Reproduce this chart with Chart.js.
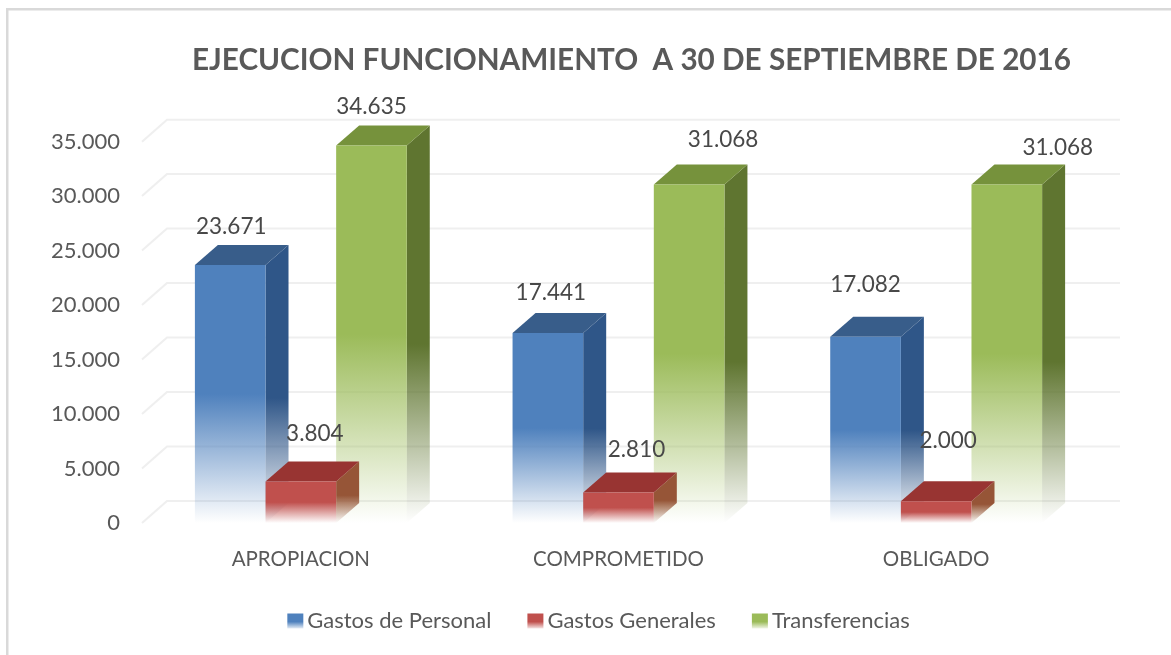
<!DOCTYPE html>
<html><head><meta charset="utf-8">
<style>html,body{margin:0;padding:0;background:#fff}#w{width:1171px;height:655px}</style>
<script src="https://cdn.jsdelivr.net/npm/chart.js@4"></script></head>
<body><div id="w"><canvas id="c" width="1171" height="655"></canvas></div>
<script>
const categories=['APROPIACION','COMPROMETIDO','OBLIGADO'];
const gastosPersonal=[23671,17441,17082];
const gastosGenerales=[3804,2810,2000];
const transferencias=[34635,31068,31068];
const titleText='EJECUCION FUNCIONAMIENTO  A 30 DE SEPTIEMBRE DE 2016';

const fmt=v=>String(v).replace(/\B(?=(\d{3})+$)/g,'.');
const DX=23,DY=-20,FADE=0.5;
const palette=[
 {front:[79,129,189],top:[56,93,138],side:[47,86,136]},
 {front:[192,80,77],top:[152,52,50],side:[150,85,55]},
 {front:[155,187,89],top:[118,146,60],side:[95,117,48]}];
const rgba=(c,a)=>`rgba(${c[0]},${c[1]},${c[2]},${a})`;
function frontFill(i){return ctx=>{
  const ch=ctx.chart,c=palette[i].front;
  if(!ch.chartArea||ctx.raw===undefined)return rgba(c,1);
  const y=ch.scales.y,t=y.getPixelForValue(ctx.raw),b=y.getPixelForValue(0);
  const g=ch.ctx.createLinearGradient(0,t,0,b);
  g.addColorStop(0,rgba(c,1));g.addColorStop(FADE,rgba(c,1));g.addColorStop(1,rgba(c,0));
  return g;};}
function drawFaces(chart,i){
  const c=chart.ctx,meta=chart.getDatasetMeta(i),p=palette[i];
  meta.data.forEach(b=>{
    const l=b.x-b.width/2,r=b.x+b.width/2,t=b.y,bs=b.base;
    const g=c.createLinearGradient(0,t+DY,0,bs);
    g.addColorStop(0,rgba(p.side,1));g.addColorStop(0.55,rgba(p.side,1));g.addColorStop(1,rgba(p.side,0));
    c.fillStyle=g;c.beginPath();c.moveTo(r,t);c.lineTo(r+DX,t+DY);c.lineTo(r+DX,bs+DY);c.lineTo(r,bs);c.closePath();c.fill();
    c.fillStyle=rgba(p.top,1);c.beginPath();c.moveTo(l,t);c.lineTo(l+DX,t+DY);c.lineTo(r+DX,t+DY);c.lineTo(r,t);c.closePath();c.fill();
  });
}
const labelShift=[[[1,-38],[3,-40],[0,-52]],[[14,-48],[18,-43],[12,-60]],[[0,-39],[34,-45],[51,-37]]];
const threeD={id:'threeD',
  beforeDraw(chart){const c=chart.ctx;c.save();c.fillStyle='#fff';c.fillRect(0,0,chart.width,chart.height);
    c.fillStyle='#d9d9d9';c.fillRect(6,8,2.5,chart.height-8);c.fillRect(6,8,chart.width-6,2.5);c.restore();},
  afterLayout(chart){
    const L=chart.legend,T=chart.titleBlock;
    L.left+=51;L.right+=51;L.top-=13;L.bottom-=13;
    T.left+=84;T.right+=84;},
  beforeDatasetsDraw(chart){
    const c=chart.ctx,y=chart.scales.y,a=chart.chartArea;
    c.save();c.strokeStyle='#efefef';c.lineWidth=2;
    y.ticks.forEach(t=>{const py=y.getPixelForValue(t.value);
      c.beginPath();c.moveTo(a.left,py);c.lineTo(a.left+25,py-22);c.lineTo(a.right+25,py-22);c.stroke();});
    drawFaces(chart,0);c.restore();},
  beforeDatasetDraw(chart,args){if(args.index>0){const c=chart.ctx;c.save();drawFaces(chart,args.index);c.restore();}},
  afterDatasetsDraw(chart){
    const c=chart.ctx;c.save();c.font='22.5px Lato';c.fillStyle='#484848';c.textAlign='center';c.textBaseline='middle';
    chart.data.datasets.forEach((ds,i)=>{chart.getDatasetMeta(i).data.forEach((b,j)=>{
      const o=labelShift[i][j];c.fillText(fmt(ds.data[j]),b.x+o[0],b.y+o[1]);});});
    c.restore();},
  afterDraw(chart){
    const c=chart.ctx,L=chart.legend;c.save();
    const widths=L.legendHitBoxes.map(h=>h.width+L.options.labels.padding);
    let x=L.left+(L.right-L.left-widths.reduce((a,b)=>a+b,0)+L.options.labels.padding)/2;
    const top=L.top+L.options.labels.padding+(L.legendHitBoxes[0].height-15)/2;
    widths.forEach((w,i)=>{
      const p=palette[i].front,g=c.createLinearGradient(0,top,0,top+15);
      g.addColorStop(0,rgba(p,1));g.addColorStop(.55,rgba(p,1));g.addColorStop(1,rgba(p,.15));
      c.fillStyle=g;c.fillRect(x,top,16,15);x+=w;});
    c.restore();}
};
const mk=(label,data,i)=>({label,data,backgroundColor:frontFill(i),borderWidth:0,barPercentage:1,categoryPercentage:0.667});
new Chart(document.getElementById('c'),{type:'bar',plugins:[threeD],
 data:{labels:categories,datasets:[mk('Gastos de Personal',gastosPersonal,0),mk('Gastos Generales',gastosGenerales,1),mk('Transferencias',transferencias,2)]},
 options:{responsive:false,animation:false,
  layout:{padding:{left:0,right:76,top:0,bottom:0}},
  plugins:{
   title:{display:true,text:titleText,color:'#595959',font:{family:'Lato',size:29.7,weight:'bold'},padding:{top:43,bottom:63}},
   legend:{position:'bottom',labels:{
     font:{family:'Lato',size:22},color:'#595959',boxWidth:9,boxHeight:14,padding:36,
     generateLabels(chart){return chart.data.datasets.map((d,i)=>({text:d.label,fillStyle:'transparent',strokeStyle:'transparent',lineWidth:0,fontColor:'#595959',datasetIndex:i}));}}},
   tooltip:{enabled:false}},
  scales:{
   x:{grid:{display:false},border:{display:false},ticks:{color:'#595959',font:{family:'Lato',size:20.5},padding:16,maxRotation:0},
      afterFit(s){s.height=64;}},
   y:{min:0,max:35000,grid:{display:false},border:{display:false},
      ticks:{stepSize:5000,color:'#595959',font:{family:'Lato',size:22},padding:14,callback:v=>fmt(v)},
      afterFit(s){s.width=142;}}
  }}});
</script></body></html>
